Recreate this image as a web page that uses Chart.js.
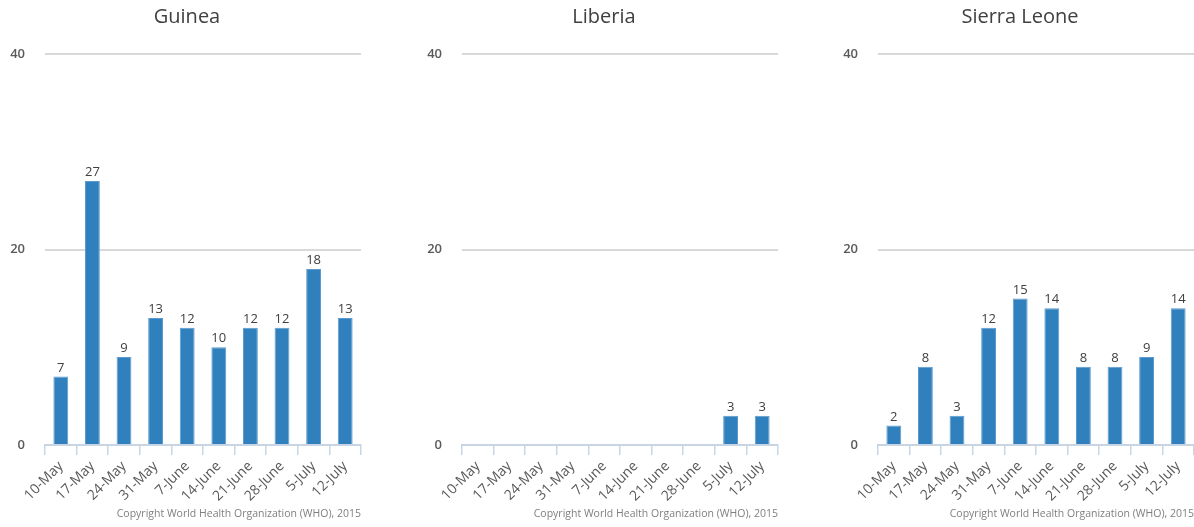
<!DOCTYPE html>
<html>
<head>
<meta charset="utf-8">
<script src="https://cdn.jsdelivr.net/npm/chart.js@4/dist/chart.umd.min.js"></script>
<style>
	html, body { margin: 0; padding: 0; background: #fff; overflow: hidden; width: 1194px; height: 527px; }
	.panel { position: absolute; top: 0; width: 374px; height: 527px; }
</style>
</head>
<body>
<div class="panel" style="left:0px"><canvas id="graph_guinea"></canvas></div>
<div class="panel" style="left:417px"><canvas id="graph_liberia"></canvas></div>
<div class="panel" style="left:833px"><canvas id="graph_sierra"></canvas></div>
<script>
var weeks = ["10-May", "17-May", "24-May", "31-May", "7-June", "14-June", "21-June", "28-June", "5-July", "12-July"];
var guinea_cases = [7, 27, 9, 13, 12, 10, 12, 12, 18, 13];
var liberia_cases = [0, 0, 0, 0, 0, 0, 0, 0, 3, 3];
var sierra_cases = [2, 8, 3, 12, 15, 14, 8, 8, 9, 14];
var y_ticks = [0, 20, 40];

var copyright_text = "Copyright World Health Organization (WHO), 2015";

Chart.defaults.font.family = "'Open Sans', sans-serif";

// draws title, value labels over bars and the copyright line
var panel_text_plugin = {
	id: 'panelText',
	afterDraw: function(chart){
		var ctx = chart.ctx;
		var area = chart.chartArea;
		ctx.save();

		//title
		ctx.fillStyle = '#404040';
		ctx.font = "20px 'Open Sans', sans-serif";
		ctx.textAlign = 'center';
		ctx.textBaseline = 'middle';
		ctx.fillText(chart.options.plugins.panelText.title, 187, 17);

		//bar values
		var meta = chart.getDatasetMeta(0);
		var data = chart.data.datasets[0].data;
		ctx.font = "13px 'Open Sans', sans-serif";
		ctx.fillStyle = '#404040';
		ctx.textBaseline = 'bottom';
		meta.data.forEach(function(bar, i){
			if(data[i] == 0){
				return;
			}
			ctx.fillText(data[i], bar.x, bar.y - 2);
		});

		//copyright
		ctx.font = "10.5px 'Open Sans', sans-serif";
		ctx.fillStyle = '#7f7f7f';
		ctx.textAlign = 'right';
		ctx.textBaseline = 'middle';
		ctx.fillText(copyright_text, area.right, 514);
		ctx.restore();
	}
};

function make_config(title, values){
	return {
		type: 'bar',
		data: {
			labels: weeks,
			datasets: [{
				label: title,
				data: values,
				backgroundColor: '#3080bd',
				borderColor: '#5c9bd1',
				borderWidth: 1,
				barPercentage: 0.47,
				categoryPercentage: 1
			}]
		},
		options: {
			animation: false,
			responsive: false,
			layout: {
				padding: { top: 54, right: 13, bottom: 0, left: 0 }
			},
			scales: {
				x: {
					offset: true,
					afterFit: function(scale){
						scale.height = 82;
					},
					ticks: {
						minRotation: 45,
						maxRotation: 45,
						autoSkip: false,
						padding: 3,
						color: '#595959',
						font: { size: 14 }
					},
					grid: {
						offset: true,
						drawOnChartArea: false,
						drawTicks: true,
						tickLength: 10,
						tickColor: '#c8d6e4',
						lineWidth: 1.5
					},
					border: {
						display: true,
						color: '#c8d6e4',
						width: 2
					}
				},
				y: {
					min: 0,
					max: 40,
					afterFit: function(scale){
						scale.width = 45;
					},
					afterBuildTicks: function(scale){
						scale.ticks = y_ticks.map(function(v){ return { value: v }; });
					},
					ticks: {
						padding: 20,
						color: '#595959',
						font: { size: 13, weight: '600' }
					},
					grid: {
						drawTicks: false,
						color: function(context){
							return context.tick && context.tick.value == 0 ? 'rgba(0,0,0,0)' : '#d9d9d9';
						},
						lineWidth: 2
					},
					border: {
						display: false
					}
				}
			},
			plugins: {
				legend: { display: false },
				title: { display: false },
				tooltip: { enabled: false },
				panelText: { title: title }
			}
		},
		plugins: [panel_text_plugin]
	};
}

document.addEventListener("DOMContentLoaded", function(){
	// INITIALIZE CHARTS //
	var ids = ["graph_guinea", "graph_liberia", "graph_sierra"];
	ids.forEach(function(id){
		var c = document.getElementById(id);
		c.width = 374;
		c.height = 527;
	});
	new Chart(document.getElementById("graph_guinea").getContext('2d'), make_config("Guinea", guinea_cases));
	new Chart(document.getElementById("graph_liberia").getContext('2d'), make_config("Liberia", liberia_cases));
	new Chart(document.getElementById("graph_sierra").getContext('2d'), make_config("Sierra Leone", sierra_cases));
});
</script>
</body>
</html>
